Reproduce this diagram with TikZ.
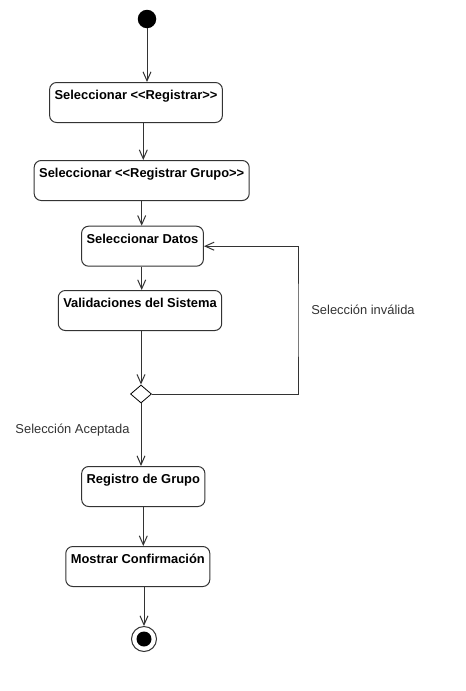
\documentclass[tikz,border=0pt]{standalone}
\usepackage{fontspec}
\setmainfont{Liberation Sans}
\usetikzlibrary{arrows.meta,shapes.geometric}
\definecolor{trazo}{HTML}{333333}
\begin{document}
\begin{tikzpicture}[
        x=1pt, y=-1pt,
        >={Straight Barb[length=9pt,width=8pt]},
        accion/.style={
            draw=trazo, line width=1pt, rounded corners=7pt,
            minimum height=40pt, inner xsep=5pt, inner ysep=0pt,
            text height=9.3pt, text depth=15pt, anchor=north,
            font=\fontsize{12.9}{15}\selectfont\bfseries
        },
        flujo/.style={->, draw=trazo, line width=1pt},
        inicio/.style={circle, fill=black, inner sep=0pt, minimum size=18.5pt},
        fin/.style={circle, draw=trazo, line width=1pt, fill=white, inner sep=0pt, minimum size=25pt},
        punto/.style={circle, fill=black, inner sep=0pt, minimum size=15pt},
        decision/.style={diamond, draw=black, line width=0.8pt, fill=white, inner sep=0pt,
            minimum width=21pt, minimum height=18pt},
        etiqueta/.style={text=trazo, font=\fontsize{12.9}{15}\selectfont}
    ]
    \useasboundingbox (0,0) rectangle (466,691);

    % 1. Nodo inicial
    \node[inicio] (ini) at (147,19) {};

    % 2. Acciones
    \node[accion] (sel) at (136,82) {Seleccionar <{}<Registrar>{}>};
    \node[accion] (grupo) at (141.7,160) {Seleccionar <{}<Registrar Grupo>{}>};
    \node[accion] (datos) at (142.5,225.7) {Seleccionar Datos};
    \node[accion] (valid) at (140,290) {Validaciones del Sistema};

    % 3. Decision
    \node[decision] (dec) at (141,394) {};

    % 4. Acciones finales
    \node[accion] (reg) at (143.3,466) {Registro de Grupo};
    \node[accion] (most) at (137.8,546) {Mostrar Confirmación};

    % 5. Nodo final
    \node[fin] (fin) at (144,639) {};
    \node[punto] at (fin) {};

    % Flechas principales
    \draw[flujo] (ini) -- (ini |- sel.north);
    \draw[flujo] ([xshift=7.3pt]sel.south) -- ([xshift=1.6pt]grupo.north);
    \draw[flujo] (grupo.south) -- (grupo.south |- datos.north);
    \draw[flujo] (datos.south -| grupo.south) -- (grupo.south |- valid.north);
    \draw[flujo] (valid.south -| dec) -- (dec.north);

    % 6. Seleccion invalida: vuelve a Seleccionar Datos
    \coordinate (vuelta) at (298,320);
    \draw[flujo] (dec.east) -| (vuelta) |- (datos.east);
    \node[etiqueta] (inval) at (363,310) {Selección inválida};

    % 7. Seleccion aceptada
    \draw[flujo] (dec.south) -- (dec.south |- reg.north);
    \node[etiqueta] (acep) at (72.5,430) {Selección Aceptada};

    \draw[flujo] (reg.south) -- (reg.south |- most.north);
    \draw[flujo] (most.south -| fin) -- (fin.north);

\end{tikzpicture}
\end{document}
